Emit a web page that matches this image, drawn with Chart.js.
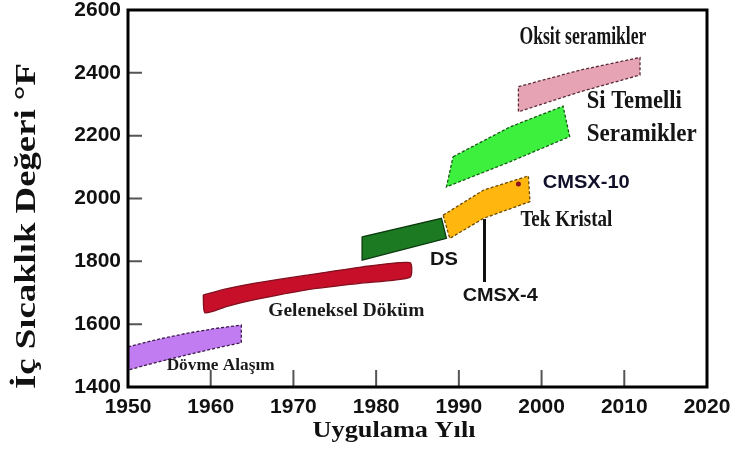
<!DOCTYPE html>
<html><head><meta charset="utf-8">
<script src="https://cdn.jsdelivr.net/npm/chart.js@4.4.0/dist/chart.umd.min.js"></script>
<style>html,body{margin:0;padding:0;background:#fff;}#wrap{width:741px;height:459px;position:relative;}</style>
</head><body><div id="wrap"><canvas id="c" width="741" height="459"></canvas></div>
<script>
// ---- axis ticks ----
const yearTicks = [1950, 1960, 1970, 1980, 1990, 2000, 2010, 2020];
const tempTicks = [1400, 1600, 1800, 2000, 2200, 2400, 2600];

// ---- band outlines (year, °F) going round each band ----
const dovmeYears = [1950, 1953.5, 1957.1, 1960.5, 1963.7, 1963.7, 1960.5, 1957.1, 1953.5, 1950];
const dovmeTemps = [1528, 1551, 1571, 1586, 1597, 1541, 1523, 1502, 1479, 1454];

const gelenekselYears = [1959.1, 1962.0, 1965.2, 1971.6, 1978.0, 1984.1, 1984.1, 1978.0, 1971.6, 1965.2, 1962.0, 1959.3];
const gelenekselTemps = [1693, 1713, 1730, 1756, 1781, 1796, 1749, 1730, 1709, 1677, 1657, 1636];

const dsYears = [1978.3, 1987.9, 1988.5, 1978.3];
const dsTemps = [1878, 1937, 1873, 1804];

const tekKristalYears = [1988.1, 1993.0, 1998.4, 1998.6, 1993.0, 1988.9];
const tekKristalTemps = [1947, 2027, 2072, 1990, 1937, 1873];

const siYears = [1989.3, 1996.2, 2002.6, 2003.4, 1996.2, 1988.5];
const siTemps = [2133, 2228, 2294, 2197, 2117, 2037];

const oksitYears = [1997.2, 2004.7, 2011.9, 2011.9, 2004.7, 1997.2];
const oksitTemps = [2356, 2409, 2449, 2393, 2340, 2276];

// ---- markers ----
const cmsx4Years = [1993.1, 1993.1];
const cmsx4Temps = [1935, 1734];
const cmsx10Years = [1997.2];
const cmsx10Temps = [2046];

// ---- annotation texts and their anchor (year, °F) ----
const labelTexts = ['Oksit seramikler', 'Si Temelli', 'Seramikler', 'CMSX-10', 'Tek Kristal', 'DS', 'CMSX-4', 'Geleneksel Döküm', 'Dövme Alaşım'];
const labelYears = [2005.0, 2011.2, 2012.1, 2005.4, 2003.0, 1988.2, 1995.0, 1976.4, 1961.2];
const labelTemps = [2511, 2308, 2202, 2049, 1932, 1804, 1690, 1642, 1467];

const xTitle = 'Uygulama Yılı';
const yTitle = 'İç Sıcaklık Değeri °F';

// ---- styles ----
const SERIF = '"Liberation Serif", "Times New Roman", serif';
const SANS = '"Liberation Sans", Arial, sans-serif';
const labelStyles = [
  {font: 'bold 25px ' + SERIF, w: 127, color: '#151515'},
  {font: 'bold 25px ' + SERIF, w: 95, color: '#151515'},
  {font: 'bold 25px ' + SERIF, w: 110, color: '#151515'},
  {font: 'bold 19px ' + SANS, w: 87, color: '#10102a'},
  {font: 'bold 23px ' + SERIF, w: 92, color: '#151515'},
  {font: 'bold 19px ' + SANS, w: 28, color: '#151515'},
  {font: 'bold 19px ' + SANS, w: 75, color: '#151515'},
  {font: 'bold 19px ' + SERIF, w: 156, color: '#1a1a1a'},
  {font: 'bold 17px ' + SERIF, w: 108, color: '#1a1a1a'}
];

function pts(xs, ys) {
  const d = xs.map((x, i) => ({x: x, y: ys[i]}));
  d.push({x: xs[0], y: ys[0]});
  return d;
}
function band(label, xs, ys, fill, border, dash, tension) {
  return {
    type: 'line', label: label, data: pts(xs, ys),
    backgroundColor: fill, borderColor: border, borderWidth: 1.3,
    borderDash: dash, fill: 'shape', pointRadius: 0, tension: tension || 0
  };
}

function fitText(ctx, text, cx, cy, font, w, rot, color) {
  ctx.save();
  ctx.font = font;
  const m = ctx.measureText(text).width;
  ctx.translate(cx, cy);
  if (rot) ctx.rotate(rot);
  ctx.scale(w / m, 1);
  ctx.fillStyle = color || '#111';
  ctx.textAlign = 'center';
  ctx.textBaseline = 'middle';
  ctx.fillText(text, 0, 0);
  ctx.restore();
}

const decor = {
  id: 'decor',
  afterDatasetsDraw(chart) {
    const {ctx, chartArea: a, scales: {x, y}} = chart;
    ctx.save();
    ctx.strokeStyle = '#555';
    ctx.lineWidth = 2;
    ctx.beginPath();
    yearTicks.slice(1, -1).forEach(v => {
      const px = x.getPixelForValue(v);
      ctx.moveTo(px, a.bottom); ctx.lineTo(px, a.bottom - 17);
    });
    tempTicks.slice(1, -1).forEach(v => {
      const py = y.getPixelForValue(v);
      ctx.moveTo(a.left, py); ctx.lineTo(a.left + 14, py);
    });
    ctx.stroke();
    ctx.strokeStyle = '#000';
    ctx.lineWidth = 3;
    ctx.strokeRect(a.left, a.top, a.right - a.left, a.bottom - a.top);
    ctx.restore();
    labelTexts.forEach((t, i) => {
      const s = labelStyles[i];
      fitText(ctx, t, x.getPixelForValue(labelYears[i]), y.getPixelForValue(labelTemps[i]), s.font, s.w, 0, s.color);
    });
  },
  afterDraw(chart) {
    const ctx = chart.ctx;
    fitText(ctx, xTitle, 394, 431, 'bold 23px ' + SERIF, 163, 0, '#111');
    fitText(ctx, yTitle, 28, 226, 'bold 29px ' + SERIF, 326, -Math.PI / 2, '#111');
  }
};

const tickFont = {family: SANS, weight: 'bold', size: 21};
const plain = v => String(v);

new Chart(document.getElementById('c'), {
  type: 'line',
  data: {
    datasets: [
      {type: 'line', label: 'CMSX-10', data: cmsx10Years.map((v, i) => ({x: v, y: cmsx10Temps[i]})),
       showLine: false, pointRadius: 2.5, pointBackgroundColor: '#8a1020', pointBorderWidth: 0},
      {type: 'line', label: 'CMSX-4', data: cmsx4Years.map((v, i) => ({x: v, y: cmsx4Temps[i]})),
       borderColor: '#111', borderWidth: 3, pointRadius: 0, fill: false},
      band('Oksit seramikler', oksitYears, oksitTemps, '#e6a3b3', '#5a2a38', [3, 2]),
      band('Si Temelli Seramikler', siYears, siTemps, '#3ef03e', '#145a14', [3, 2]),
      band('Tek Kristal', tekKristalYears, tekKristalTemps, '#ffb70f', '#6a4a00', [3, 2]),
      band('DS', dsYears, dsTemps, '#1c7a22', '#0c3a0e', []),
      band('Geleneksel Döküm', gelenekselYears, gelenekselTemps, '#c80f2a', '#80101e', [], 0.2),
      band('Dövme Alaşım', dovmeYears, dovmeTemps, '#c27cf2', '#3a1a4a', [3, 2])
    ]
  },
  options: {
    responsive: false,
    animation: false,
    layout: {padding: {left: 0, right: 34, top: 10, bottom: 0}},
    plugins: {legend: {display: false}, tooltip: {enabled: false}},
    scales: {
      x: {
        type: 'linear', min: 1950, max: 2020,
        afterBuildTicks: s => { s.ticks = yearTicks.map(v => ({value: v})); },
        ticks: {font: tickFont, color: '#111', padding: 8, maxRotation: 0, autoSkip: false, callback: plain},
        grid: {display: false, drawTicks: false},
        border: {display: false},
        afterFit: s => { s.height = 72; s.paddingLeft = 0; s.paddingRight = 0; }
      },
      y: {
        type: 'linear', min: 1400, max: 2600,
        afterBuildTicks: s => { s.ticks = tempTicks.map(v => ({value: v})); },
        ticks: {font: tickFont, color: '#111', padding: 7, autoSkip: false, callback: plain},
        grid: {display: false, drawTicks: false},
        border: {display: false},
        afterFit: s => { s.width = 128; s.paddingTop = 0; s.paddingBottom = 0; }
      }
    }
  },
  plugins: [decor]
});
</script>
</body></html>
